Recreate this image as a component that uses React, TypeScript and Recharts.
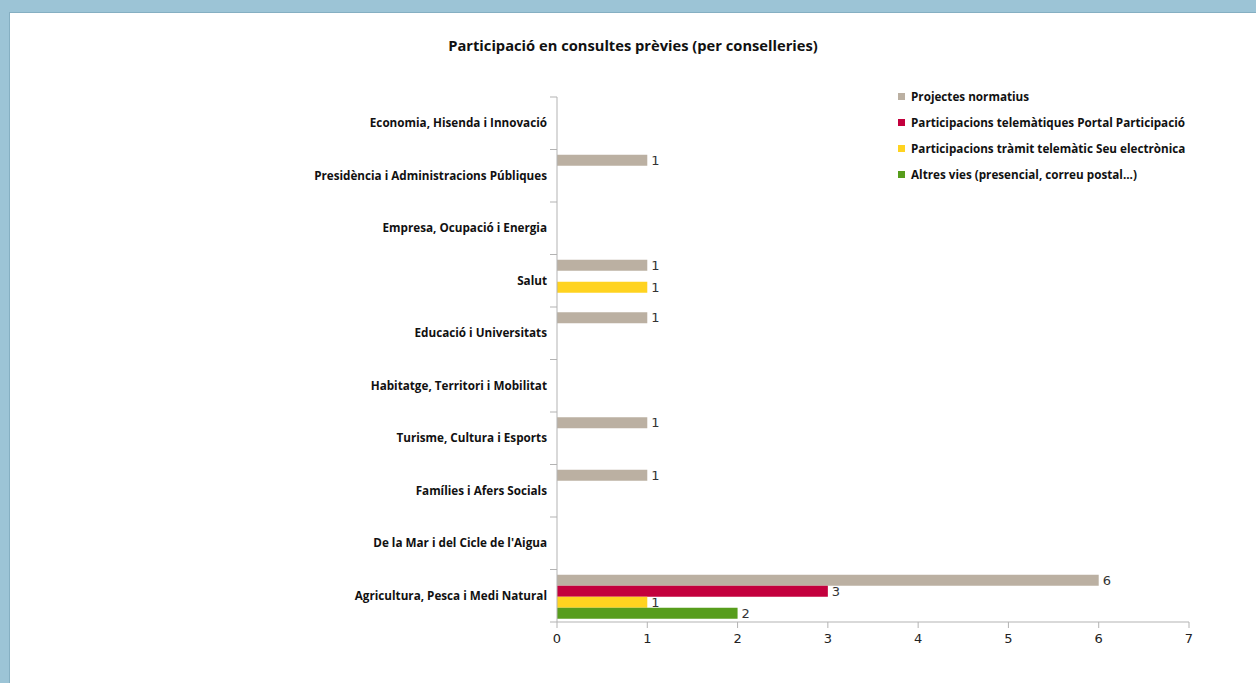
import { BarChart, Bar, XAxis, YAxis, LabelList } from 'recharts';

const categories = [
  'Economia, Hisenda i Innovació',
  'Presidència i Administracions Públiques',
  'Empresa, Ocupació i Energia',
  'Salut',
  'Educació i Universitats',
  'Habitatge, Territori i Mobilitat ',
  'Turisme, Cultura i Esports',
  'Famílies i Afers Socials',
  "De la Mar i del Cicle de l'Aigua ",
  'Agricultura, Pesca i Medi Natural',
];

const projectesNormatius = [0, 1, 0, 1, 1, 0, 1, 1, 0, 6];
const portalParticipacio = [0, 0, 0, 0, 0, 0, 0, 0, 0, 3];
const seuElectronica = [0, 0, 0, 1, 0, 0, 0, 0, 0, 1];
const altresVies = [0, 0, 0, 0, 0, 0, 0, 0, 0, 2];

const xTicks = [0, 1, 2, 3, 4, 5, 6, 7];

const series = [
  { key: 'projectes', name: 'Projectes normatius', color: '#bbb0a2', values: projectesNormatius },
  { key: 'portal', name: 'Participacions telemàtiques Portal Participació', color: '#c3003d', values: portalParticipacio },
  { key: 'seu', name: 'Participacions tràmit telemàtic Seu electrònica', color: '#ffd320', values: seuElectronica },
  { key: 'altres', name: 'Altres vies (presencial, correu postal...)', color: '#579d1c', values: altresVies },
];

const data = categories.map((name, i) => {
  const row: Record<string, string | number> = { name };
  series.forEach(s => {
    row[s.key] = s.values[i];
  });
  return row;
});

const W = 1256;
const H = 683;
const AXIS_X = 557;
const AXIS_COLOR = '#b3b3b3';
const LABEL_FONT = '"Open Sans", "Noto Sans", sans-serif';
const NUM_FONT = '"DejaVu Sans", sans-serif';

// category label in the middle of the band, tick marks on band boundaries
const CategoryTick = ({ y, payload, index, visibleTicksCount }: any) => {
  const half = payload?.offset ?? 26.25;
  const isLast = index === visibleTicksCount - 1;
  return (
    <g>
      <line x1={AXIS_X - 7} x2={AXIS_X} y1={y - half} y2={y - half} stroke={AXIS_COLOR} />
      {isLast && <line x1={AXIS_X - 7} x2={AXIS_X} y1={y + half} y2={y + half} stroke={AXIS_COLOR} />}
      <text
        x={AXIS_X - 10}
        y={y}
        dy="0.35em"
        textAnchor="end"
        fontSize={11.7}
        fontWeight={700}
        fontFamily={LABEL_FONT}
        fill="#111"
      >
        {payload.value}
      </text>
    </g>
  );
};

const hideZero = (v: any) => (v ? v : '');

export default function App() {
  return (
    <div style={{ position: 'absolute', left: 0, top: 0, width: W, height: H, background: '#9cc4d6', overflow: 'hidden' }}>
      <div
        style={{
          position: 'absolute',
          left: 9,
          top: 12,
          right: 0,
          bottom: 0,
          background: '#fff',
          borderTop: '1px solid #85afc2',
          borderLeft: '1px solid #85afc2',
        }}
      />
      <div
        style={{
          position: 'absolute',
          left: 383,
          top: 35,
          width: 500,
          textAlign: 'center',
          fontFamily: LABEL_FONT,
          fontWeight: 700,
          fontSize: 14.7,
          color: '#111',
        }}
      >
        Participació en consultes prèvies (per conselleries)
      </div>

      {/* Legend */}
      <div
        style={{
          position: 'absolute',
          left: 898,
          top: 83,
          fontFamily: LABEL_FONT,
          fontSize: 11.7,
          fontWeight: 700,
          color: '#111',
          whiteSpace: 'nowrap',
        }}
      >
        {series.map(s => (
          <div key={s.key} style={{ display: 'flex', alignItems: 'center', height: 26 }}>
            <span style={{ width: 7, height: 7, background: s.color, marginRight: 6, display: 'inline-block' }} />
            <span>{s.name}</span>
          </div>
        ))}
      </div>

      <div style={{ position: 'absolute', left: 0, top: 0 }}>
        <BarChart
          width={W}
          height={H}
          data={data}
          layout="vertical"
          margin={{ top: 97, right: 67, bottom: 31, left: 0 }}
          barCategoryGap="10%"
          barGap={0}
        >
          <XAxis
            type="number"
            domain={[0, 7]}
            ticks={xTicks}
            interval={0}
            height={30}
            tickSize={6}
            tickMargin={6}
            axisLine={{ stroke: AXIS_COLOR }}
            tickLine={{ stroke: AXIS_COLOR }}
            tick={{ fontSize: 13, fontFamily: NUM_FONT, fill: '#222' }}
          />
          <YAxis
            type="category"
            dataKey="name"
            width={AXIS_X}
            interval={0}
            axisLine={{ stroke: AXIS_COLOR }}
            tickLine={false}
            tick={<CategoryTick />}
          />
          {series.map(s => (
            <Bar key={s.key} dataKey={s.key} name={s.name} fill={s.color} isAnimationActive={false}>
              <LabelList
                dataKey={s.key}
                position="right"
                offset={4}
                formatter={hideZero}
                style={{ fontSize: 13, fontFamily: NUM_FONT, fill: '#333' }}
              />
            </Bar>
          ))}
        </BarChart>
      </div>
    </div>
  );
}
